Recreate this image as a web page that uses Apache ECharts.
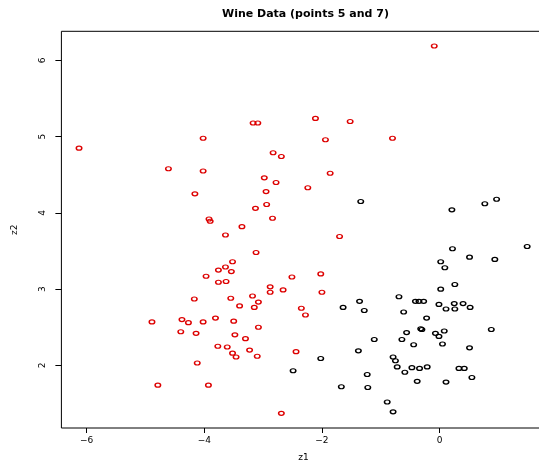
<!DOCTYPE html>
<html>
<head>
<meta charset="utf-8">
<script src="https://cdn.jsdelivr.net/npm/echarts@6/dist/echarts.min.js"></script>
<style>
html,body{margin:0;padding:0;background:#fff;overflow:hidden;width:539px;height:467px;}
#chart{width:547px;height:467px;}
</style>
</head>
<body>
<div id="chart"></div>
<script>
const titleText = 'Wine Data (points 5 and 7)';
const xName = 'z1';
const yName = 'z2';
const xTicks = [-6, -4, -2, 0];
const yTicks = [2, 3, 4, 5, 6];

const redPoints = [
  [-6.13,4.85],[-4.02,4.98],[-3.17,5.18],[-3.09,5.18],[-4.61,4.58],[-4.02,4.55],
  [-4.16,4.25],[-3.13,4.06],[-3.92,3.92],[-3.90,3.89],[-3.36,3.82],[-3.64,3.71],
  [-3.12,3.48],[-3.52,3.36],[-3.64,3.29],[-3.76,3.25],[-3.54,3.23],[-3.97,3.17],
  [-3.76,3.09],[-3.63,3.10],[-4.17,2.87],[-3.55,2.88],[-3.18,2.91],[-3.08,2.83],
  [-3.40,2.78],[-3.15,2.76],[-4.89,2.57],[-4.38,2.60],[-4.27,2.56],[-4.02,2.57],
  [-3.81,2.62],[-3.50,2.58],[-3.08,2.50],[-4.40,2.44],[-4.14,2.42],[-3.48,2.40],
  [-3.30,2.35],[-3.77,2.25],[-3.61,2.24],[-3.23,2.20],[-3.52,2.16],[-3.46,2.11],
  [-3.10,2.12],[-4.12,2.03],[-4.79,1.74],[-3.93,1.74],[-2.11,5.24],[-1.52,5.20],
  [-0.80,4.98],[-1.94,4.96],[-2.83,4.79],[-2.69,4.74],[-1.86,4.52],[-2.98,4.46],
  [-2.78,4.40],[-2.24,4.33],[-2.95,4.28],[-2.94,4.11],[-2.84,3.93],[-1.70,3.69],
  [-2.51,3.16],[-2.02,3.20],[-2.88,3.03],[-2.88,2.96],[-2.66,2.99],[-2.00,2.96],
  [-2.35,2.75],[-2.28,2.66],[-2.44,2.18],[-2.69,1.37],[-0.09,6.19]
];

const blackPoints = [
  [-1.34,4.15],[-1.36,2.84],[-1.64,2.76],[-1.28,2.72],[-0.69,2.90],[-1.11,2.34],
  [-1.38,2.19],[-2.02,2.09],[-2.49,1.93],[-0.79,2.11],[-0.75,2.06],[-0.72,1.98],
  [-1.23,1.88],[-1.67,1.72],[-1.22,1.71],[-0.89,1.52],[-0.79,1.39],[0.97,4.18],
  [0.77,4.12],[0.21,4.04],[0.22,3.53],[1.49,3.56],[0.51,3.42],[0.94,3.39],
  [0.02,3.36],[0.09,3.28],[0.02,3.00],[0.26,3.06],[-0.41,2.84],[-0.35,2.84],
  [-0.27,2.84],[-0.01,2.80],[0.25,2.81],[0.40,2.81],[0.11,2.74],[0.26,2.74],
  [0.52,2.76],[-0.61,2.70],[-0.22,2.62],[-0.32,2.48],[-0.30,2.47],[0.88,2.47],
  [-0.56,2.43],[-0.07,2.42],[-0.01,2.38],[0.08,2.45],[-0.64,2.34],[-0.44,2.27],
  [0.05,2.28],[0.51,2.23],[-0.47,1.97],[-0.34,1.96],[-0.21,1.98],[-0.59,1.91],
  [0.33,1.96],[0.42,1.96],[0.55,1.84],[-0.38,1.79],[0.11,1.78]
];

const FONT = 'DejaVu Sans';
const chart = echarts.init(document.getElementById('chart'), null, {renderer: 'canvas'});

function scatter(data, color) {
  return {
    type: 'scatter',
    data: data,
    symbol: 'circle',
    symbolSize: [5.5, 4],
    itemStyle: {color: 'rgba(0,0,0,0)', borderColor: color, borderWidth: 1.3, opacity: 1},
    emphasis: {disabled: true},
    silent: true,
    animation: false
  };
}

chart.setOption({
  animation: false,
  backgroundColor: '#fff',
  title: {
    text: titleText,
    left: 222,
    top: 9,
    padding: 0,
    textStyle: {fontFamily: FONT, fontSize: 11, fontWeight: 'bold', color: '#000'}
  },
  grid: {
    left: 61.4,
    top: 31.3,
    width: 484,
    height: 399.5,
    show: true,
    borderColor: '#000',
    borderWidth: 1,
    backgroundColor: 'rgba(0,0,0,0)',
    containLabel: false
  },
  xAxis: {
    type: 'value',
    min: -6.43,
    max: 1.80,
    name: xName,
    nameLocation: 'middle',
    nameGap: 25,
    nameTextStyle: {fontFamily: FONT, fontSize: 9, color: '#000'},
    axisLine: {show: false, onZero: false},
    axisTick: {show: true, customValues: xTicks, length: 5, lineStyle: {color: '#000', width: 1}},
    axisLabel: {
      customValues: xTicks,
      margin: 8,
      fontFamily: FONT, fontSize: 9, color: '#000',
      formatter: v => (v < 0 ? '\u2212' + Math.abs(v) : String(v))
    },
    splitLine: {show: false}
  },
  yAxis: {
    type: 'value',
    min: 1.178,
    max: 6.383,
    name: yName,
    nameLocation: 'middle',
    nameRotate: 90,
    nameGap: 42,
    nameTextStyle: {fontFamily: FONT, fontSize: 9, color: '#000'},
    axisLine: {show: false, onZero: false},
    axisTick: {show: true, customValues: yTicks, length: 6, lineStyle: {color: '#000', width: 1}},
    axisLabel: {
      customValues: yTicks,
      rotate: 90,
      margin: 14,
      fontFamily: FONT, fontSize: 9, color: '#000'
    },
    splitLine: {show: false}
  },
  series: [scatter(redPoints, '#dd0000'), scatter(blackPoints, '#000000')]
});
</script>
</body>
</html>
